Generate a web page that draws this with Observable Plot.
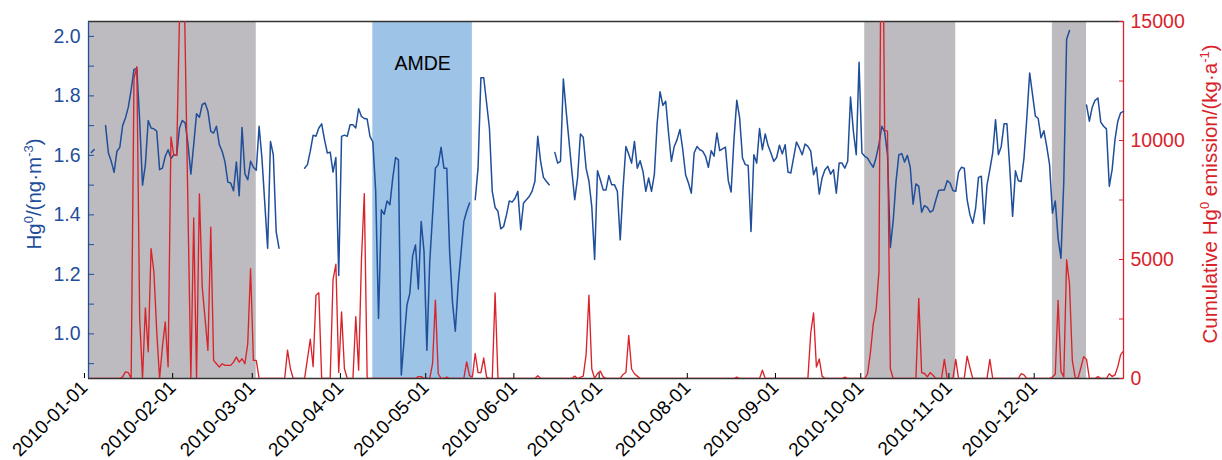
<!DOCTYPE html>
<html>
<head>
<meta charset="utf-8">
<script src="https://cdn.jsdelivr.net/npm/d3@7"></script>
<script src="https://cdn.jsdelivr.net/npm/@observablehq/plot@0.6"></script>
<style>
  html, body { margin: 0; padding: 0; background: #fff; }
  #chart svg { display: block; }
</style>
</head>
<body>
<div id="chart"></div>
<script>
// Daily Hg0 concentration (ng·m^-3). Day = days since 2010-01-01; null marks a gap in the record.
const hgDays = [
  1, 2, 3,
  6, 7, 8, 9, 10, 11, 12, 13, 14, 15,
  16, 17, 18, 19, 20, 21, 22, 23, 24, 25,
  26, 27, 28, 29, 30, 31, 32, 33, 34, 35,
  36, 37, 38, 39, 40, 41, 42, 43, 44, 45,
  46, 47, 48, 49, 50, 51, 52, 53, 54, 55,
  56, 57, 58, 59, 60, 61, 63, 64, 65, 66,
  67, 68,
  76, 77, 78, 79, 80, 81, 82, 83, 84, 85,
  86, 87, 88, 89, 90, 91, 92, 93, 94, 95,
  96, 97, 98, 99, 100, 101, 102, 103, 104, 105,
  106, 107, 108, 109, 110, 112, 113, 114, 115, 116,
  117, 118, 119, 120, 122, 123, 124, 125, 126, 127,
  128, 129, 130, 132, 133, 134, 135,
  136, 137, 138, 139, 141, 142, 143, 144, 145, 146,
  147, 148, 149, 150, 151, 152, 153, 154, 155, 156,
  157, 158, 159, 160, 161, 162, 163,
  164, 165, 166, 167, 168, 169, 170, 171, 172, 173,
  174, 175, 176, 177, 178, 179, 180, 181, 182, 183,
  184, 185, 186, 187, 188, 189, 190, 191, 192, 193,
  194, 195, 196, 197, 198, 199, 200, 201, 202, 203,
  204, 205, 206, 207, 208, 209, 210, 211, 212, 213,
  214, 215, 216, 217, 218, 219, 220, 221, 222, 223,
  224, 225, 226, 227, 228, 229, 230, 231, 232, 233,
  234, 235, 236, 237, 238, 239, 240, 241, 242, 243,
  244, 245, 246, 247, 248, 249, 250, 251, 252, 253,
  254, 255, 256, 257, 258, 259, 260, 261, 262, 263,
  264, 265, 266, 267, 268, 269, 270, 271, 272, 273,
  274, 275, 276, 277, 278, 279, 280, 281, 282, 283,
  284, 285, 286, 287, 288, 289, 290, 291, 292, 293,
  294, 295, 296, 297, 298, 299, 300, 301, 302, 303,
  304, 305, 306, 307, 308, 309, 310, 311, 312, 313,
  314, 315, 316, 317, 318, 319, 320, 321, 322, 323,
  324, 325, 326, 327, 328, 329, 330, 331, 332, 333,
  334, 335, 336, 337, 338, 339, 340, 341, 342, 343,
  344, 345, 346,
  351, 352, 353, 354, 355, 356, 357, 358, 359, 360,
  361, 362, 363, 364
];
const hgValues = [
  1.61, 1.62, null,
  1.70, 1.608, 1.58, 1.543, 1.614, 1.627, 1.70, 1.726, 1.762, 1.82,
  1.889, 1.892, 1.715, 1.50, 1.569, 1.717, 1.692, 1.689, 1.681, 1.552,
  1.557, 1.597, 1.619, 1.589, 1.602, 1.60, 1.692, 1.717, 1.709, 1.636,
  1.537, 1.636, 1.74, 1.728, 1.771, 1.776, 1.748, 1.681, 1.675, 1.698,
  1.636, 1.614, 1.578, 1.51, 1.507, 1.481, 1.578, 1.464, 1.694, 1.538,
  1.518, 1.58, 1.56, 1.55, 1.698, 1.59, 1.288, 1.647, 1.602, 1.344,
  1.288, null,
  1.557, 1.569, 1.614, 1.668, 1.664, 1.692, 1.706, 1.653, 1.608, 1.611,
  1.544, 1.593, 1.196, 1.664, 1.668, 1.664, 1.703, 1.703, 1.692, 1.757,
  1.731, 1.724, 1.722, 1.664, 1.645, 1.48, 1.052, 1.417, 1.402, 1.447,
  1.434, 1.524, 1.593, 1.585, 0.862, 1.097, 1.136, 1.263, 1.299, 1.151,
  1.378, 1.277, 0.945, 1.24, 1.557, 1.569, 1.627, 1.557, 1.557, 1.277,
  1.108, 1.009, 1.164, 1.378, 1.412, 1.44, null,
  1.451, 1.557, 1.861, 1.861, 1.692, 1.479, 1.425, 1.412, 1.353, 1.361,
  1.40, 1.447, 1.443, 1.456, 1.479, 1.35, 1.44, 1.451, 1.462, 1.479,
  1.513, 1.664, 1.58, 1.526, 1.513, 1.501, null,
  1.61, 1.574, 1.58, 1.857, 1.748, 1.647, 1.546, 1.451, 1.524, 1.672,
  1.661, 1.557, 1.513, 1.428, 1.25, 1.548, 1.518, 1.484, 1.484, 1.532,
  1.501, 1.501, 1.479, 1.316, 1.49, 1.63, 1.604, 1.574, 1.647, 1.557,
  1.582, 1.546, 1.479, 1.524, 1.479, 1.535, 1.709, 1.814, 1.768, 1.782,
  1.675, 1.58, 1.63, 1.653, 1.687, 1.619, 1.535, 1.507, 1.473, 1.608,
  1.63, 1.619, 1.614, 1.597, 1.56, 1.616, 1.597, 1.675, 1.616, 1.622,
  1.628, 1.515, 1.477, 1.653, 1.785, 1.726, 1.591, 1.569, 1.566, 1.344,
  1.602, 1.574, 1.69, 1.619, 1.672, 1.633, 1.608, 1.58, 1.593, 1.634,
  1.605, 1.636, 1.544, 1.541, 1.593, 1.645, 1.625, 1.602, 1.638, 1.63,
  1.614, 1.535, 1.56, 1.47, 1.524, 1.552, 1.563, 1.537, 1.552, 1.473,
  1.574, 1.574, 1.557, 1.58, 1.796, 1.681, 1.602, 1.913, 1.608, 1.597,
  1.591, 1.574, 1.56, 1.593, 1.638, 1.698, 1.679, 1.602, 1.29, 1.38,
  1.512, 1.602, 1.606, 1.578, 1.60, 1.56, 1.436, 1.504, 1.496, 1.409,
  1.431, 1.425, 1.409, 1.415, 1.45, 1.482, 1.484, 1.484, 1.515, 1.507,
  1.482, 1.479, 1.544, 1.56, 1.557, 1.451, 1.40, 1.372, 1.423, 1.526,
  1.53, 1.37, 1.501, 1.552, 1.608, 1.72, 1.602, 1.63, 1.706, 1.706,
  1.557, 1.395, 1.548, 1.515, 1.512, 1.591, 1.726, 1.877, 1.805, 1.732,
  1.724, 1.659, 1.683, 1.63, 1.569, 1.406, 1.447, 1.321, 1.254, 1.512,
  1.99, 2.02, null,
  1.769, 1.715, 1.762, 1.785, 1.793, 1.712, 1.698, 1.689, 1.496, 1.552,
  1.653, 1.715, 1.743, 1.748
];

// Cumulative Hg0 emission (kg·a^-1), same day numbering
const emDays = [
  0, 11, 12, 13, 14, 15, 16, 17, 18, 19,
  20, 21, 22, 23, 24, 25, 26, 27, 28, 29,
  30, 31, 33, 36, 37, 38, 39, 40, 42, 43,
  44, 45, 46, 47, 48, 50, 51, 52, 53, 54,
  55, 56, 57, 58, 59, 60, 69, 70, 71, 72,
  76, 78, 79, 80, 81, 82, 85, 86, 87, 88,
  89, 90, 91, 93, 94, 95, 96, 97, 98, 115,
  116, 117, 118, 120, 121, 122, 123, 124, 125, 126,
  127, 132, 133, 134, 135, 136, 137, 138, 139, 140,
  141, 142, 143, 144, 157, 158, 159, 170, 171, 172,
  174, 175, 176, 177, 178, 179, 180, 181, 182, 187,
  188, 189, 190, 191, 192, 193, 194, 227, 228, 229,
  236, 237, 238, 253, 254, 255, 256, 257, 258, 259,
  265, 266, 267, 273, 274, 275, 276, 277, 278, 279,
  280, 281, 282, 283, 291, 292, 293, 294, 295, 296,
  297, 298, 300, 301, 302, 304, 305, 306, 308, 309,
  310, 311, 316, 317, 318, 327, 328, 329, 330, 338,
  339, 340, 341, 342, 343, 344, 345, 346, 347, 348,
  349, 350, 351, 352, 354, 355, 356, 358, 359, 360,
  361, 362, 363, 364
];
const emValues = [
  0, 0, 70, 280, 250, 0, 12600, 13100, 2520, 0,
  2970, 1120, 5460, 4480, 1960, 0, 1330, 2380, 490, 10150,
  9380, 9380, 21000, 0, 6750, 0, 7760, 3840, 1180, 6360,
  760, 620, 480, 620, 550, 550, 690, 900, 690, 830,
  620, 1460, 4610, 760, 760, 0, 0, 1190, 420, 0,
  0, 1650, 500, 3500, 3600, 0, 0, 4150, 4800, 250,
  2800, 420, 0, 0, 2600, 350, 5000, 7770, 0, 0,
  80, 80, 0, 0, 630, 3290, 200, 0, 0, 60,
  0, 0, 700, 120, 60, 1050, 250, 250, 860, 60,
  0, 0, 3600, 0, 0, 120, 0, 0, 100, 0,
  100, 1000, 3500, 400, 0, 210, 310, 70, 0, 0,
  170, 250, 1810, 400, 200, 100, 0, 0, 60, 0,
  0, 350, 0, 0, 1900, 2760, 480, 820, 100, 0,
  0, 60, 0, 0, 200, 1100, 2300, 2900, 4500, 24000,
  10430, 10390, 420, 0, 0, 3360, 250, 210, 70, 250,
  140, 0, 0, 800, 0, 0, 800, 0, 0, 940,
  450, 0, 0, 800, 0, 0, 200, 150, 0, 0,
  60, 180, 3280, 300, 60, 4990, 3980, 760, 50, 0,
  450, 920, 800, 0, 0, 80, 0, 0, 200, 80,
  150, 500, 1000, 1150
];

// Shaded periods
const periodStart = ["2010-01-01", "2010-04-11", "2010-10-01", "2010-12-06"];
const periodEnd   = ["2010-03-01", "2010-05-16", "2010-11-02", "2010-12-18"];
const periodKind  = ["snow", "AMDE", "snow", "snow"];

// Axis ticks
const monthTicks = ["2010-01-01", "2010-02-01", "2010-03-01", "2010-04-01", "2010-05-01", "2010-06-01",
                    "2010-07-01", "2010-08-01", "2010-09-01", "2010-10-01", "2010-11-01", "2010-12-01"];
const hgTicks = [0.9, 1.0, 1.1, 1.2, 1.3, 1.4, 1.5, 1.6, 1.7, 1.8, 1.9, 2.0];
const emTicks = [0, 2500, 5000, 7500, 10000, 12500, 15000];

const hgDomain = [0.85, 2.05];
const emDomain = [0, 15000];
const xDomain = [new Date("2010-01-01"), new Date("2010-12-31")];

const BLUE = "#1f4e9b";
const RED = "#d9232b";
const FONT = "'Liberation Sans', Arial, Helvetica, sans-serif";

const t0 = new Date("2010-01-01");
const toDate = (d) => d3.utcDay.offset(t0, d);
// emission values are drawn against the concentration scale through this linear map
const emToHg = d3.scaleLinear(emDomain, hgDomain);

const hg = hgDays.map((d, i) => ({date: toDate(d), value: hgValues[i]}));
const em = emDays.map((d, i) => ({date: toDate(d), value: emValues[i], y: emToHg(emValues[i])}));
const periods = periodStart.map((s, i) => ({start: new Date(s), end: new Date(periodEnd[i]), kind: periodKind[i]}));
const amde = periods.filter((p) => p.kind === "AMDE");

const chart = Plot.plot({
  width: 1222,
  height: 460,
  marginTop: 21,
  marginBottom: 82,
  marginLeft: 88,
  marginRight: 99,
  style: {fontFamily: FONT, fontSize: "19.5px", background: "white", overflow: "visible"},
  x: {type: "utc", domain: xDomain, label: null},
  y: {domain: hgDomain, label: null},
  marks: [
    Plot.rect(periods, {
      x1: "start", x2: "end",
      y1: () => hgDomain[0], y2: () => hgDomain[1],
      fill: (d) => d.kind === "AMDE" ? "#9dc3e6" : "#bdbbbf"
    }),
    Plot.text(amde, {
      x: (d) => new Date((+d.start + +d.end) / 2),
      frameAnchor: "top", dy: 35,
      text: (d) => d.kind, fill: "black", fontSize: 19.5
    }),
    // frame edges: top/bottom dark, left blue, right red
    Plot.ruleY([hgDomain[1]], {stroke: "#333", strokeWidth: 1.3}),
    Plot.ruleY([hgDomain[0]], {stroke: "#333", strokeWidth: 1.3}),
    Plot.ruleX([xDomain[0]], {stroke: BLUE, strokeWidth: 1.3}),
    Plot.ruleX([xDomain[1]], {stroke: RED, strokeWidth: 1.3}),
    Plot.line(hg, {x: "date", y: "value", stroke: BLUE, strokeWidth: 1.5}),
    Plot.line(em, {x: "date", y: "y", stroke: RED, strokeWidth: 1.35, clip: true}),
    Plot.axisY(hgTicks, {
      anchor: "left", tickSize: -6, tickPadding: 14, label: null, color: BLUE, fontSize: 19.5,
      tickFormat: (d) => Math.round(d * 10) % 2 === 0 ? d.toFixed(1) : ""
    }),
    Plot.axisY(emTicks.map((v) => emToHg(v)), {
      anchor: "right", tickSize: -5, tickPadding: 12, label: null, color: RED, fontSize: 19.5,
      tickFormat: (d) => {
        const v = Math.round(emToHg.invert(d));
        return v % 5000 === 0 ? String(v) : "";
      }
    }),
    Plot.axisX(monthTicks.map((s) => new Date(s)), {
      anchor: "bottom", tickSize: -5, tickPadding: 11, tickRotate: -45, dx: -4,
      label: null, color: "black", fontSize: 19,
      tickFormat: d3.utcFormat("%Y-%m-%d")
    })
  ]
});

document.getElementById("chart").appendChild(chart);

// Rotated axis titles with superscripts
const svg = d3.select(chart);
function title(x, y, color, parts) {
  const t = svg.append("text")
    .attr("transform", `translate(${x},${y}) rotate(-90)`)
    .attr("text-anchor", "middle")
    .attr("fill", color)
    .attr("font-family", FONT)
    .attr("font-size", 20.5);
  let raised = false;
  for (const [s, sup] of parts) {
    const span = t.append("tspan").text(s);
    if (sup && !raised) { span.attr("dy", -8).attr("font-size", 13); raised = true; }
    else if (sup) { span.attr("font-size", 13); }
    else if (raised) { span.attr("dy", 8); raised = false; }
  }
}
title(40.5, 194, BLUE, [["Hg", false], ["0", true], ["/(ng·m", false], ["-3", true], [")", false]]);
title(1217, 194, RED, [["Cumulative Hg", false], ["0", true], [" emission/(kg·a", false], ["-1", true], [")", false]]);
</script>
</body>
</html>
